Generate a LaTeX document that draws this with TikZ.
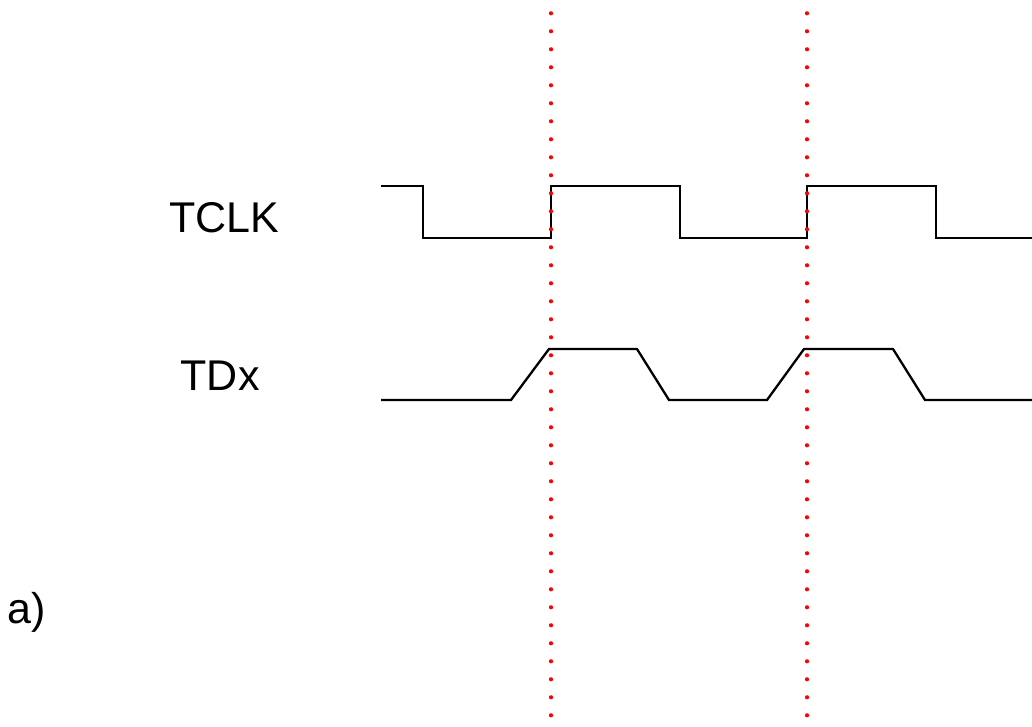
\documentclass[tikz,border=0pt]{standalone}
\usepackage{fontspec}
\setmainfont{Liberation Sans}
\begin{document}
\begin{tikzpicture}[x=1pt,y=-1pt,
  wave/.style={line width=2.3pt,black,line join=miter},
  marker/.style={red,line width=4.2pt,line cap=round,dash pattern=on 0pt off 18pt},
  lbl/.style={anchor=base west,inner sep=0pt,font=\fontsize{43}{50}\selectfont}]
\useasboundingbox (0,0) rectangle (1032,726);
% labels
\node[lbl] (tclk) at (169,232.7) {TCLK};
\node[lbl] (tdx) at (180.5,390.7) {TDx};
\node[lbl] (sub) at (7,623) {a)};
% TCLK waveform
\draw[wave] (381,186) -- (423,186) -- (423,238) -- (551,238) -- (551,186) -- (680,186) -- (680,238) -- (807,238) -- (807,186) -- (936,186) -- (936,238) -- (1040,238);
% TDx waveform
\draw[wave] (381,400) -- (511,400) -- (549,349) -- (637,349) -- (669,400) -- (767,400) -- (804,349) -- (893,349) -- (925,400) -- (1040,400);
% red dotted markers
\coordinate (m1t) at (551,-4.7);
\coordinate (m1b) at (551,740);
\coordinate (m2t) at (807,-4.7);
\coordinate (m2b) at (807,740);
\draw[marker] (m1t) -- (m1b);
\draw[marker] (m2t) -- (m2b);
\end{tikzpicture}
\end{document}
